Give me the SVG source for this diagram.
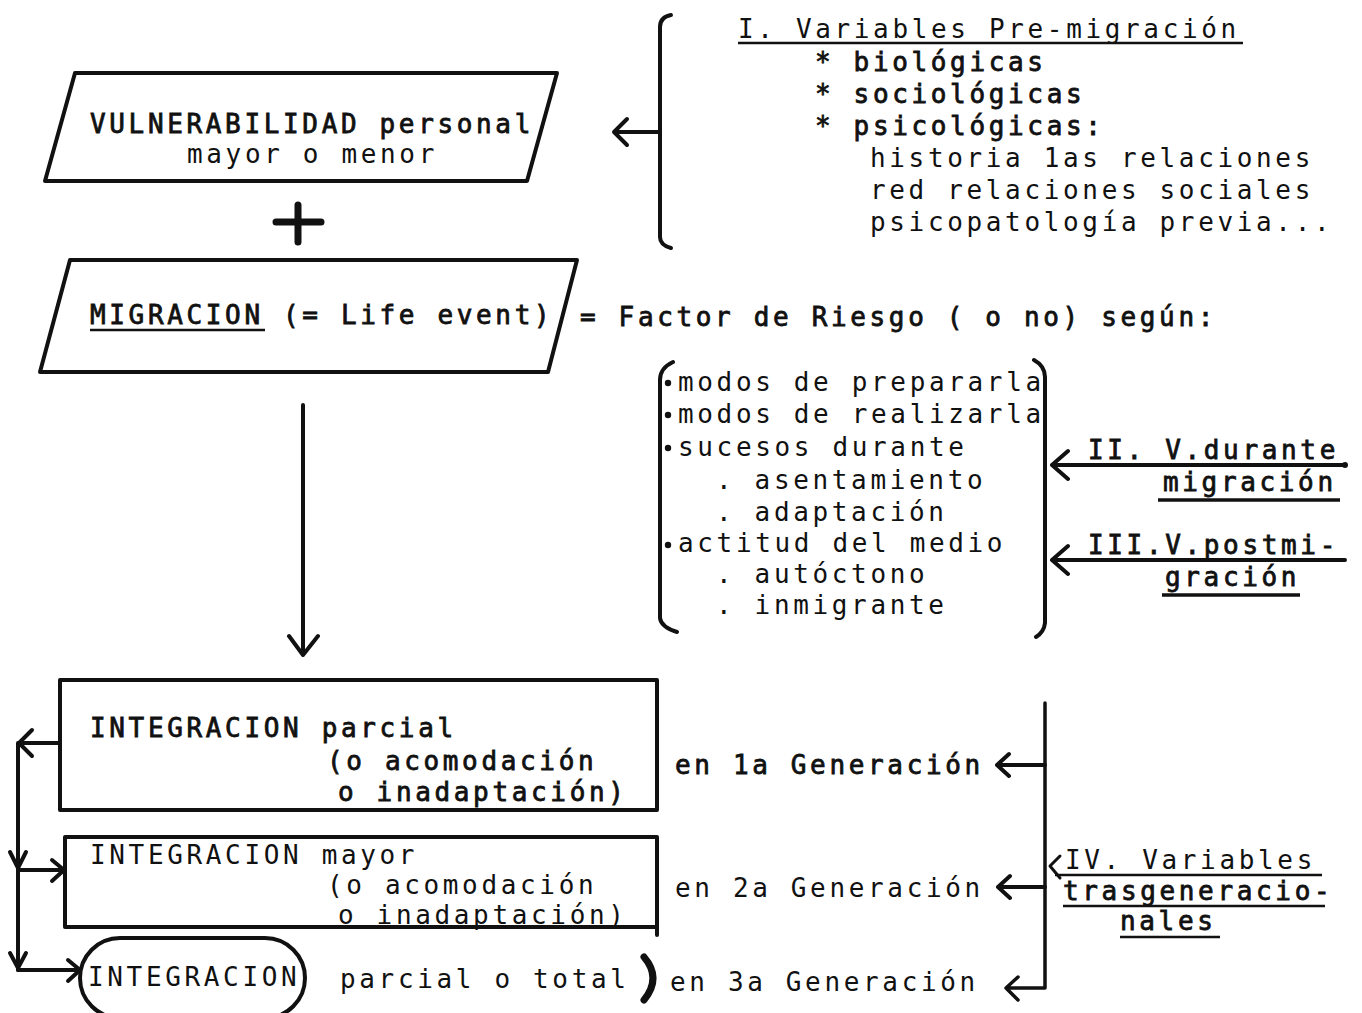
<svg xmlns="http://www.w3.org/2000/svg" width="1362" height="1013" viewBox="0 0 1362 1013">
<style>
text{font-family:"DejaVu Sans Mono","Liberation Mono",monospace;font-size:26px;letter-spacing:3.65px;fill:#111}
.b{stroke:#111;stroke-width:0.8}
.shape{fill:none;stroke:#111;stroke-width:4;stroke-linejoin:round;stroke-linecap:round}
.ln{fill:none;stroke:#111;stroke-width:4;stroke-linecap:round;stroke-linejoin:round}
.ul{fill:none;stroke:#111;stroke-width:2.5}
</style>
<rect width="1362" height="1013" fill="#fff"/>

<g id="vulnerabilidad">
<polygon class="shape" points="75,73 557,73 527,181 45,181"/>
<text class="b" x="90" y="133">VULNERABILIDAD personal</text>
<text x="187" y="163">mayor o menor</text>
</g>

<g id="plus">
<path class="ln" d="M276,222 H321 M298,205 V242" style="stroke-width:7"/>
</g>

<g id="migracion">
<polygon class="shape" points="70,260 577,260 548,372 40,372"/>
<text class="b" x="90" y="324">MIGRACION (= Life event)</text>
<line class="ul" x1="90" y1="330" x2="265" y2="330"/>
</g>

<g id="factor">
<text class="b" x="580" y="326">= Factor de Riesgo ( o no) según:</text>
</g>

<g id="premigracion">
<path class="ln" d="M671,15 Q660,17 660,27 V237 Q660,245 671,248"/>
<text x="738" y="38">I. Variables Pre-migración</text>
<line class="ul" x1="738" y1="43" x2="1243" y2="43"/>
<text class="b" x="815" y="71">* biológicas</text>
<text class="b" x="815" y="103">* sociológicas</text>
<text class="b" x="815" y="135">* psicológicas:</text>
<text x="870" y="167">historia 1as relaciones</text>
<text x="870" y="199">red relaciones sociales</text>
<text x="870" y="231">psicopatología previa...</text>
</g>

<g id="durante-lista">
<path class="ln" d="M673,362 Q660,368 660,380 V618 Q661,627 677,632"/>
<path class="ln" d="M1034,360 Q1045,366 1045,377 V623 Q1044,632 1036,637"/>
<circle cx="668" cy="383" r="3.2" fill="#111"/>
<circle cx="668" cy="415" r="3.2" fill="#111"/>
<circle cx="668" cy="448" r="3.2" fill="#111"/>
<circle cx="668" cy="545" r="3.2" fill="#111"/>
<text x="678" y="391">modos de prepararla</text>
<text x="678" y="423">modos de realizarla</text>
<text x="678" y="456">sucesos durante</text>
<text x="716" y="489">. asentamiento</text>
<text x="716" y="521">. adaptación</text>
<text x="678" y="552">actitud del medio</text>
<text x="716" y="583">. autóctono</text>
<text x="716" y="614">. inmigrante</text>
</g>

<g id="v-durante">
<text class="b" x="1088" y="459">II. V.durante</text>
<text class="b" x="1163" y="491">migración</text>
<line class="ul" x1="1158" y1="500" x2="1340" y2="500" style="stroke-width:3.5"/>
</g>

<g id="v-post">
<text class="b" x="1088" y="554">III.V.postmi-</text>
<text class="b" x="1165" y="586">gración</text>
<line class="ul" x1="1162" y1="595" x2="1300" y2="595" style="stroke-width:3.5"/>
</g>

<g id="integracion1">
<rect class="shape" x="60" y="680" width="597" height="130"/>
<text class="b" x="90" y="737">INTEGRACION parcial</text>
<text class="b" x="327" y="770">(o acomodación</text>
<text class="b" x="338" y="801">o inadaptación)</text>
</g>

<g id="integracion2">
<path class="shape" d="M65,837 H657 V935 M657,927 H65 V837"/>
<text x="90" y="864">INTEGRACION mayor</text>
<text x="327" y="894">(o acomodación</text>
<text x="338" y="924">o inadaptación)</text>
</g>

<g id="integracion3">
<rect class="shape" x="80" y="938" width="225" height="80" rx="40"/>
<text x="88" y="986">INTEGRACION</text>
<text x="340" y="988">parcial o total</text>
<path d="M644,957 Q662,978 644,1000" fill="none" stroke="#111" stroke-width="7" stroke-linecap="round"/>
</g>

<g id="generaciones">
<text class="b" x="675" y="774">en 1a Generación</text>
<text x="675" y="897">en 2a Generación</text>
<text x="670" y="991">en 3a Generación</text>
</g>

<g id="trasgeneracionales">
<text x="1065" y="869">IV. Variables</text>
<text class="b" x="1063" y="900">trasgeneracio-</text>
<text class="b" x="1120" y="930">nales</text>
<line class="ul" x1="1055" y1="875" x2="1322" y2="875"/>
<line class="ul" x1="1063" y1="906" x2="1325" y2="906"/>
<line class="ul" x1="1120" y1="937" x2="1220" y2="937"/>
</g>

<g id="connectors">
<path class="ln" d="M660,132 H614 M627,119 L614,132 L627,145"/>
<path class="ln" d="M303,405 V655 M289,636 L303,655 L318,636"/>
<path class="ln" d="M1345,465 H1052 M1068,451 L1052,465 L1068,479"/>
<circle cx="1345" cy="465" r="3" fill="#111"/>
<path class="ln" d="M1345,560 H1052 M1068,546 L1052,560 L1068,574"/>
<path class="ln" d="M1045,703 V988 H1006 M1018,977 L1006,988 L1018,1000" style="stroke-width:3.5"/>
<path class="ln" d="M1045,765 H997 M1009,754 L997,765 L1009,776"/>
<path class="ln" d="M1045,887 H998 M1010,876 L998,887 L1010,898"/>
<path class="ln" d="M1060,856 L1050,866 L1060,878" style="stroke-width:3"/>
<path class="ln" d="M60,743 H19 M32,730 L19,743 L32,756"/>
<path class="ln" d="M18,743 V970"/>
<path class="ln" d="M10,852 L18,868 L26,852"/>
<path class="ln" d="M18,870 H64 M52,860 L64,870 L52,881"/>
<path class="ln" d="M10,953 L18,968 L26,953"/>
<path class="ln" d="M18,970 H80 M68,960 L80,970 L68,981"/>
</g>
</svg>
